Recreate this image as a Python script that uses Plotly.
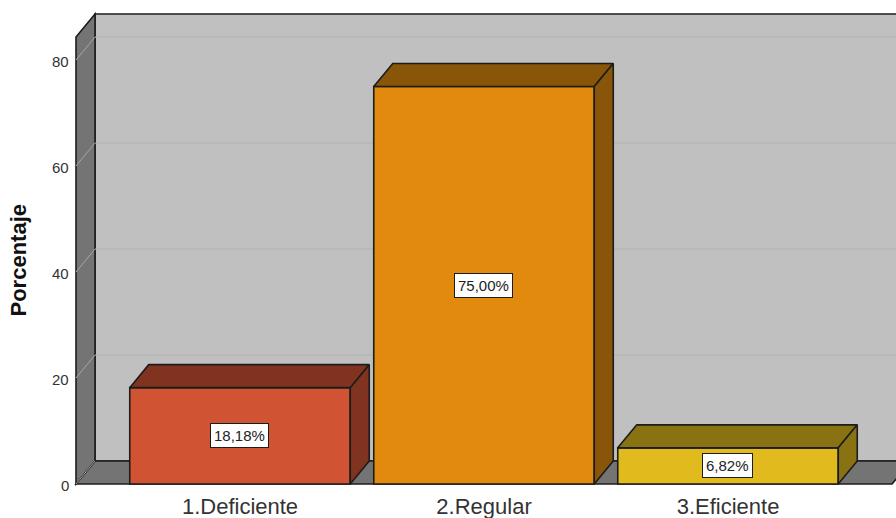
import plotly.graph_objects as go

# data
categories = ["1.Deficiente", "2.Regular", "3.Eficiente"]
percent = [18.18, 75.00, 6.82]
face_colors = ["#D05433", "#E18A0E", "#E1BB1D"]
dark_colors = ["#803420", "#895508", "#897212"]
y_ticks = [0, 20, 40, 60, 80]

WIDTH, HEIGHT = 896, 518
PX_PER_CAT = 244.0
PX_PER_PCT = 5.3
BAR_WIDTH = 220.5 / PX_PER_CAT
# depth of the fake 3d box, in axis units
DX = 19 / PX_PER_CAT
DY = 23 / PX_PER_PCT
EDGE = "#1c1c1c"

x_pos = [1, 2, 3]
x_left = 1 - 164 / PX_PER_CAT  # front left corner of the box
x_right = 1 + 652 / PX_PER_CAT
y_top = 470 / PX_PER_PCT - DY  # front height of the box


def path(points):
    return "M " + " L ".join(f"{x},{y}" for x, y in points) + " Z"


fig = go.Figure()

# Front faces
fig.add_trace(
    go.Bar(
        x=x_pos,
        y=percent,
        width=BAR_WIDTH,
        marker=dict(color=face_colors, line=dict(color=EDGE, width=1.6)),
        hoverinfo="skip",
        showlegend=False,
    )
)

# Top and side faces of each bar
for x, v, dark in zip(x_pos, percent, dark_colors):
    l, r = x - BAR_WIDTH / 2, x + BAR_WIDTH / 2
    top = [(l, v), (l + DX, v + DY), (r + DX, v + DY), (r, v), (l, v)]
    side = [(r, v), (r + DX, v + DY), (r + DX, DY), (r, 0), (r, v)]
    for face in (top, side):
        fig.add_trace(
            go.Scatter(
                x=[p[0] for p in face],
                y=[p[1] for p in face],
                mode="lines",
                fill="toself",
                fillcolor=dark,
                line=dict(color=EDGE, width=1.6),
                hoverinfo="skip",
                showlegend=False,
            )
        )

# Box walls behind the bars
shapes = [
    dict(
        type="path",
        path=path(
            [
                (x_left + DX, DY),
                (x_left + DX, y_top + DY),
                (x_right + DX + 1, y_top + DY),
                (x_right + DX + 1, DY),
            ]
        ),
        fillcolor="#C0C0C0",
        line=dict(color=EDGE, width=1.6),
    ),
    dict(
        type="path",
        path=path(
            [(x_left, 0), (x_left + DX, DY), (x_right + DX, DY), (x_right, 0)]
        ),
        fillcolor="#747474",
        line=dict(color=EDGE, width=1.6),
    ),
    dict(
        type="path",
        path=path(
            [
                (x_left, 0),
                (x_left, y_top),
                (x_left + DX, y_top + DY),
                (x_left + DX, DY),
            ]
        ),
        fillcolor="#747474",
        line=dict(color=EDGE, width=1.6),
    ),
]
for t in y_ticks:
    shapes.append(
        dict(
            type="line",
            x0=x_left,
            y0=t,
            x1=x_left + DX,
            y1=t + DY,
            line=dict(color="#A6A6A6", width=1),
        )
    )
    if t > 0:
        shapes.append(
            dict(
                type="line",
                x0=x_left + DX,
                y0=t + DY,
                x1=x_right + DX + 1,
                y1=t + DY,
                line=dict(color="#B2B2B2", width=1.2),
            )
        )
for s in shapes:
    s["layer"] = "below"

# Value labels
annotations = [
    dict(
        x=x,
        y=v / 2,
        xshift=-1,
        text=f"{v:.2f}".replace(".", ",") + "%",
        showarrow=False,
        font=dict(family="Liberation Sans", size=15, color="#222222"),
        bgcolor="white",
        bordercolor=EDGE,
        borderwidth=1,
        borderpad=3,
    )
    for x, v in zip(x_pos, percent)
]

# Y tick labels sit a bit under their gridline in the original, so annotate them
for t in y_ticks:
    annotations.append(
        dict(
            xref="paper",
            x=0,
            xanchor="right",
            xshift=-3,
            y=t,
            yshift=-1,
            text=str(t),
            showarrow=False,
            font=dict(family="Liberation Sans", size=15, color="#333333"),
        )
    )

# Axis title, placed by hand because it is not centred on the plot area
annotations.append(
    dict(
        xref="paper",
        yref="paper",
        x=0,
        xshift=-71,
        y=(484 + 2 - 260) / 474,
        text="<b>Porcentaje</b>",
        textangle=-90,
        showarrow=False,
        font=dict(family="Liberation Sans", size=22, color="#111111"),
    )
)

fig.update_layout(
    width=WIDTH,
    height=HEIGHT,
    margin=dict(l=74, r=0, t=12, b=32, autoexpand=False),
    paper_bgcolor="white",
    plot_bgcolor="white",
    shapes=shapes,
    annotations=annotations,
    showlegend=False,
    xaxis=dict(
        range=[1 - 166 / PX_PER_CAT, 1 + 656 / PX_PER_CAT],
        tickvals=x_pos,
        ticktext=categories,
        showgrid=False,
        zeroline=False,
        showline=False,
        tickfont=dict(family="Liberation Sans", size=22, color="#333333"),
        ticks="",
        ticklabelstandoff=5,
    ),
    yaxis=dict(
        range=[-2 / PX_PER_PCT, 472 / PX_PER_PCT],
        showticklabels=False,
        showgrid=False,
        zeroline=False,
        showline=False,
        ticks="",
    ),
)

# the page's default body margin would push the figure out of the window
fig.write_html(
    "out.html",
    config={"displayModeBar": False},
    post_script="document.body.style.margin = '0';",
)
